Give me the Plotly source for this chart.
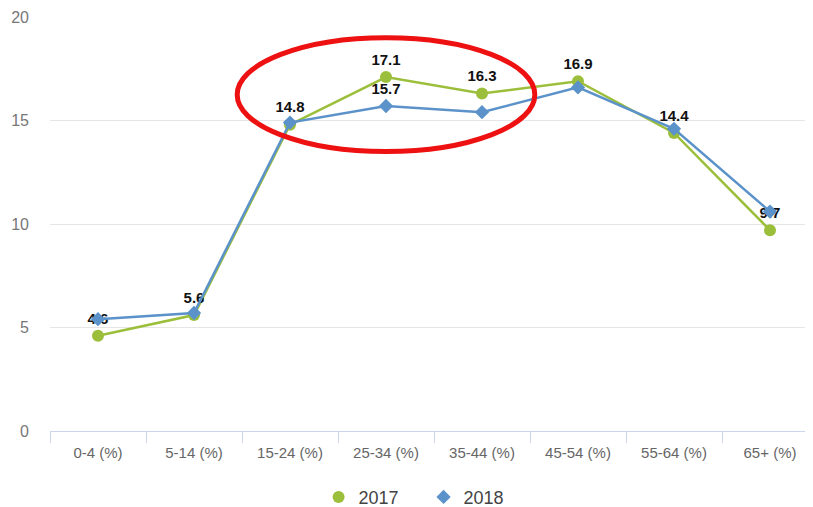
import plotly.graph_objects as go

age_groups = ["0-4 (%)", "5-14 (%)", "15-24 (%)", "25-34 (%)",
              "35-44 (%)", "45-54 (%)", "55-64 (%)", "65+ (%)"]
values_2017 = [4.6, 5.6, 14.8, 17.1, 16.3, 16.9, 14.4, 9.7]
values_2018 = [5.4, 5.7, 14.9, 15.7, 15.4, 16.6, 14.6, 10.6]

# which points carry a data label
labels_2017 = [True, True, True, True, True, True, True, True]
labels_2018 = [False, False, False, True, False, False, False, False]

green = "#9cbf3b"
blue = "#5b92c9"

label_font = dict(family="Liberation Sans, Arial", size=15, color="#111111",
                  weight="bold")

fig = go.Figure()

fig.add_trace(go.Scatter(
    x=age_groups,
    y=values_2017,
    name="2017",
    mode="lines+markers+text",
    line=dict(color=green, width=2.5),
    marker=dict(symbol="circle", size=12, color=green),
    text=[f"{v:.1f}" if show else "" for v, show in zip(values_2017, labels_2017)],
    textposition="top center",
    textfont=label_font,
    cliponaxis=False,
    showlegend=False,
))

fig.add_trace(go.Scatter(
    x=age_groups,
    y=values_2018,
    name="2018",
    mode="lines+markers+text",
    line=dict(color=blue, width=2.5),
    marker=dict(symbol="diamond", size=11, color=blue),
    text=[f"{v:.1f}" if show else "" for v, show in zip(values_2018, labels_2018)],
    textposition="top center",
    textfont=label_font,
    cliponaxis=False,
    showlegend=False,
))

# legend entries show only the marker symbol
fig.add_trace(go.Scatter(
    x=[None], y=[None], name="2017", mode="markers",
    marker=dict(symbol="circle", size=12, color=green),
))
fig.add_trace(go.Scatter(
    x=[None], y=[None], name="2018", mode="markers",
    marker=dict(symbol="diamond", size=11, color=blue),
))

# red highlight ellipse around 25-34 / 35-44
fig.add_shape(
    type="circle",
    xref="x", yref="y",
    x0=1.45, x1=4.55,
    y0=13.5, y1=19.0,
    line=dict(color="#ee1111", width=5),
    layer="above",
)

# page body adds an 8px offset, margins account for it
fig.update_layout(
    width=813,
    height=507,
    margin=dict(l=42, r=3, t=9, b=84),
    paper_bgcolor="white",
    plot_bgcolor="white",
    font=dict(family="Liberation Sans, Arial", color="#666666"),
    showlegend=True,
    legend=dict(
        orientation="h",
        xref="container", yref="container",
        x=0.382, xanchor="left",
        y=0.035, yanchor="middle",
        font=dict(size=18, color="#444444"),
        itemwidth=30,
        entrywidth=60,
    ),
)

fig.update_xaxes(
    type="category",
    range=[-0.5, 7.5],
    showgrid=False,
    showline=True,
    linecolor="#ccd6eb",
    linewidth=1,
    ticks="outside",
    tickson="boundaries",
    ticklen=11,
    tickcolor="#ccd6eb",
    tickfont=dict(size=15, color="#666666"),
    ticklabelstandoff=8,
    automargin=False,
    fixedrange=True,
)

fig.update_yaxes(
    range=[0, 20],
    tickvals=[0, 5, 10, 15, 20],
    showgrid=True,
    gridcolor="#e6e6e6",
    gridwidth=1,
    zeroline=False,
    showline=False,
    tickfont=dict(size=16, color="#777777"),
    ticklabelstandoff=20,
    automargin=False,
)

fig.write_html("out.html")
